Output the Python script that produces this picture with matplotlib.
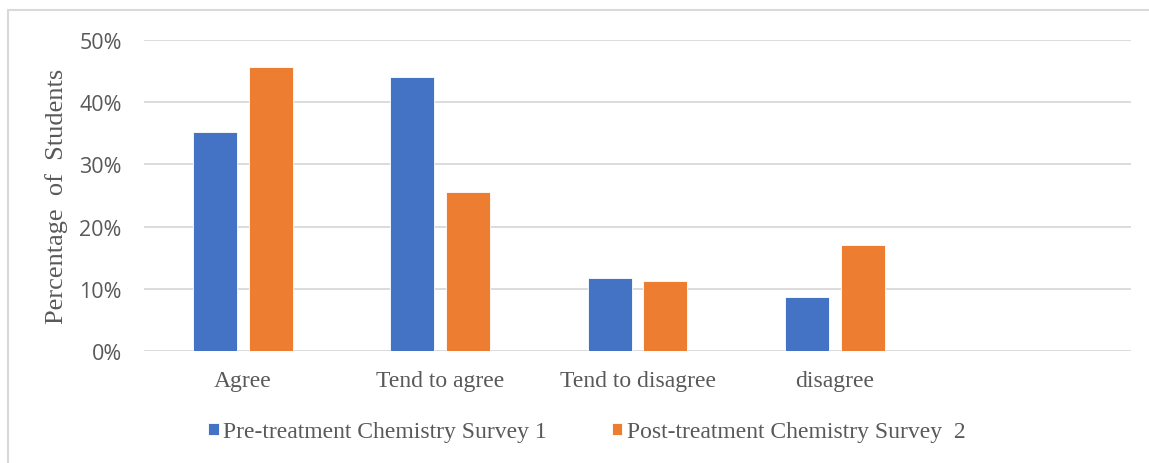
import matplotlib.pyplot as plt
import numpy as np
from matplotlib.patches import Rectangle
from matplotlib.ticker import PercentFormatter

categories = ["Agree", "Tend to agree", "Tend to disagree", "disagree", ""]
pre_survey = [35.2, 44.0, 11.7, 8.7, np.nan]
post_survey = [45.6, 25.6, 11.3, 17.0, np.nan]
series_names = ["Pre-treatment Chemistry Survey 1", "Post-treatment Chemistry Survey  2"]
y_ticks = [0, 10, 20, 30, 40, 50]


def main() -> None:
    fig = plt.figure(figsize=(11.49, 4.64), dpi=100)
    ax = fig.add_axes([144 / 1149, 1 - 352 / 464, 987 / 1149, 311 / 464])

    # outer chart border (left and top visible)
    fig.patches.append(Rectangle((8 / 1149, -0.1), 1.2, 1 - 11 / 464 + 0.1,
                                 transform=fig.transFigure, fill=False,
                                 edgecolor="#d9d9d9", linewidth=1.5))

    x = np.arange(len(categories))
    width = 0.223
    gap = 0.06
    ax.bar(x - (width + gap) / 2, pre_survey, width, color="#4472C4",
           edgecolor="white", linewidth=0.6, label=series_names[0], zorder=3)
    ax.bar(x + (width + gap) / 2, post_survey, width, color="#ED7D31",
           edgecolor="white", linewidth=0.6, label=series_names[1], zorder=3)

    ax.set_xlim(-0.5, len(categories) - 0.5)
    ax.set_ylim(0, 50)
    ax.set_yticks(y_ticks)
    ax.yaxis.set_major_formatter(PercentFormatter(decimals=0))
    ax.grid(axis="y", color="#d9d9d9", linewidth=1.3, zorder=0)
    for side in ["top", "right", "left", "bottom"]:
        ax.spines[side].set_visible(False)
    ax.tick_params(axis="both", length=0)
    ax.tick_params(axis="y", labelsize=15.5, labelcolor="#595959", pad=16)
    for lab in ax.get_yticklabels():
        lab.set_fontfamily("Open Sans")

    ax.set_xticks(x)
    ax.set_xticklabels(categories, fontfamily="Liberation Serif",
                       fontsize=17, color="#595959")
    ax.tick_params(axis="x", pad=14)

    ax.set_ylabel("Percentage  of  Students", fontfamily="Liberation Serif",
                  fontsize=19, color="#595959", labelpad=8)

    leg = fig.legend(loc="center", bbox_to_anchor=(587 / 1149, 1 - 433 / 464),
                     ncol=2, frameon=False, handlelength=0.43, handleheight=0.43,
                     handletextpad=0.2, columnspacing=2.75, borderpad=0,
                     prop={"family": "Liberation Serif", "size": 17})
    for t in leg.get_texts():
        t.set_color("#595959")

    fig.savefig("out.png", dpi=100)


if __name__ == "__main__":
    main()
